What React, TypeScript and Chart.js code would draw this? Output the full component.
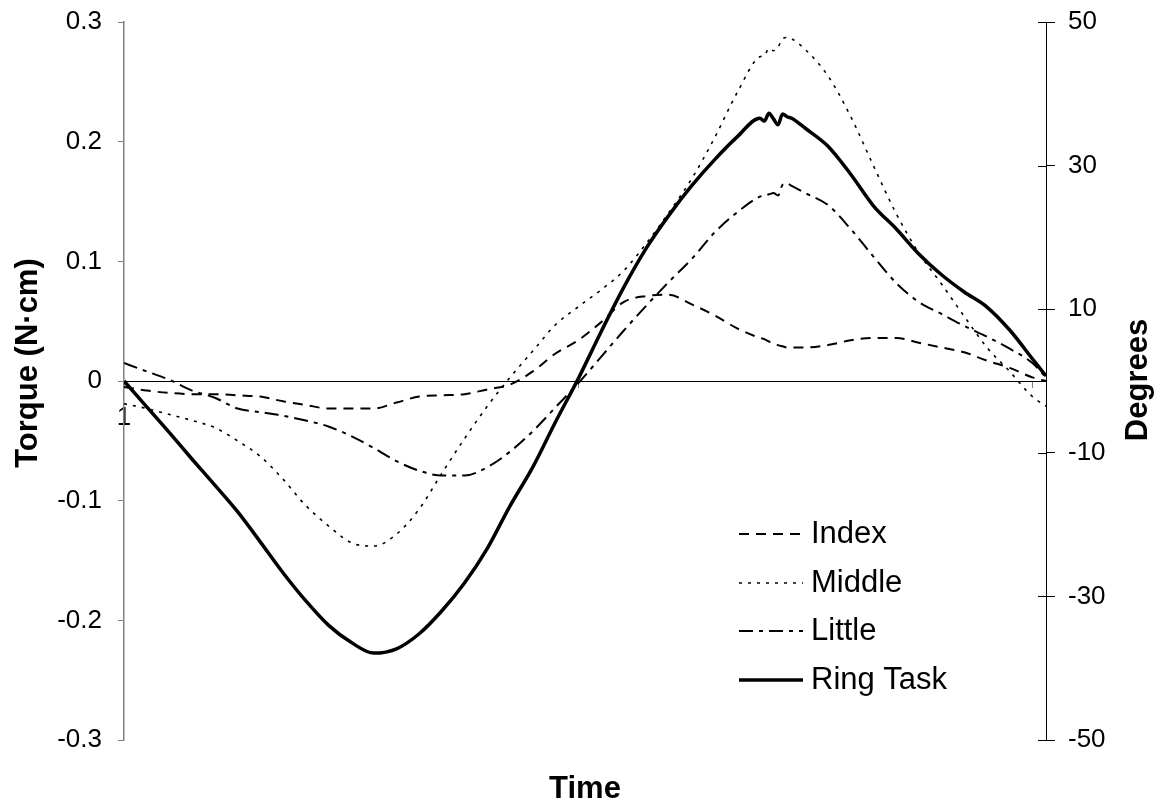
import React, { useEffect, useRef } from 'react';
import { Chart, registerables } from 'chart.js';

Chart.register(...registerables);

const FONT = "'Liberation Sans', Arial, Helvetica, sans-serif";

// Time axis: sample numbers (category ticks every 100 samples, only "1" labelled)
const samples = [
  1, 6, 11, 16, 21, 26, 31, 36, 41, 46, 51, 56, 61, 66, 71, 76, 81, 86, 91, 96,
  101, 106, 111, 116, 121, 126, 131, 136, 141, 142, 143, 144, 145, 146, 147, 148,
  151, 156, 161, 166, 171, 176, 181, 186, 191, 196, 201, 204,
];
const xTickSamples = [1, 101, 201];
const xTickLabels = ['1', '', ''];

// Torque (N·cm)
const indexTorque = [
  -0.005, -0.008, -0.010, -0.011, -0.011, -0.012, -0.013, -0.017, -0.020, -0.023,
  -0.023, -0.023, -0.018, -0.013, -0.012, -0.011, -0.007, -0.003, 0.008, 0.023,
  0.034, 0.049, 0.066, 0.071, 0.072, 0.064, 0.055, 0.044, 0.036, 0.035,
  0.033, 0.032, 0.030, 0.029, 0.028, 0.028,
  0.028, 0.030, 0.034, 0.036, 0.036, 0.032, 0.028, 0.024, 0.017, 0.011,
  0.003, 0.000,
];
const middleTorque = [
  -0.019, -0.023, -0.028, -0.033, -0.039, -0.050, -0.063, -0.082, -0.104, -0.121,
  -0.135, -0.138, -0.128, -0.107, -0.077, -0.048, -0.021, 0.003, 0.025, 0.047,
  0.062, 0.076, 0.092, 0.115, 0.141, 0.169, 0.203, 0.241, 0.271, 0.272,
  0.278, 0.276, 0.279, 0.286, 0.287, 0.286,
  0.277, 0.255, 0.221, 0.180, 0.140, 0.107, 0.081, 0.054, 0.028, 0.008,
  -0.013, -0.021,
];
const littleTorque = [
  0.015, 0.008, 0.001, -0.008, -0.014, -0.023, -0.026, -0.029, -0.033, -0.038,
  -0.046, -0.056, -0.067, -0.075, -0.079, -0.079, -0.072, -0.059, -0.042, -0.022,
  -0.002, 0.020, 0.042, 0.063, 0.083, 0.102, 0.124, 0.141, 0.154, 0.155,
  0.156, 0.157, 0.155, 0.164, 0.165, 0.163,
  0.157, 0.147, 0.127, 0.104, 0.082, 0.066, 0.056, 0.046, 0.037, 0.027,
  0.015, 0.003,
];
// Ring task angle (Degrees)
const ringDegrees = [
  0, -3.6, -7.2, -10.9, -14.5, -18.2, -22.4, -26.7, -30.6, -34.0,
  -36.4, -37.9, -37.3, -35.2, -32.0, -28.1, -23.3, -17.4, -12.0, -5.7,
  0.3, 6.8, 13.0, 18.5, 23.1, 27.2, 30.8, 34.0, 36.6, 36.2,
  37.3, 36.5, 35.7, 37.2, 36.8, 36.6,
  35.2, 32.7, 28.8, 24.4, 21.2, 17.7, 14.8, 12.4, 10.3, 7.1,
  3.1, 0.7,
];

const seriesLabels = ['Index', 'Middle', 'Little', 'Ring Task'];
const torqueMin = -0.3;
const torqueMax = 0.3;
const torqueStep = 0.1;
const degreeMin = -50;
const degreeMax = 50;
const degreeStep = 20;
const leftTitle = 'Torque (N·cm)';
const rightTitle = 'Degrees';
const bottomTitle = 'Time';

const crossTicks = {
  id: 'crossTicks',
  afterDraw(chart: any) {
    const s = chart.scales.y1;
    const ctx = chart.ctx;
    ctx.save();
    ctx.strokeStyle = '#000';
    ctx.lineWidth = 1;
    s.ticks.forEach((t: any) => {
      const py = Math.round(s.getPixelForValue(t.value)) + 0.5;
      ctx.beginPath();
      ctx.moveTo(s.left - 8, py);
      ctx.lineTo(s.left, py);
      ctx.stroke();
    });
    ctx.restore();
  },
};

const titlesPlugin = {
  id: 'titlesPlugin',
  afterDraw(chart: any) {
    const ctx = chart.ctx;
    ctx.save();
    ctx.fillStyle = '#000';
    ctx.font = `bold 31px ${FONT}`;
    ctx.textAlign = 'center';
    ctx.textBaseline = 'middle';
    ctx.fillText(bottomTitle, 585, 789);
    ctx.save();
    ctx.translate(28, 363);
    ctx.rotate(-Math.PI / 2);
    ctx.fillText(leftTitle, 0, 0);
    ctx.restore();
    ctx.save();
    ctx.translate(1138, 380);
    ctx.rotate(-Math.PI / 2);
    ctx.fillText(rightTitle, 0, 0);
    ctx.restore();
    ctx.restore();
  },
};

const legendPlugin = {
  id: 'customLegend',
  afterDraw(chart: any) {
    const ctx = chart.ctx;
    const rows = [534, 583, 631, 680];
    ctx.save();
    chart.data.datasets.forEach((ds: any, i: number) => {
      const y = rows[i];
      ctx.strokeStyle = ds.borderColor;
      ctx.lineWidth = ds.borderWidth;
      ctx.setLineDash(ds.borderDash || []);
      ctx.beginPath();
      ctx.moveTo(739, y);
      ctx.lineTo(803, y);
      ctx.stroke();
      ctx.setLineDash([]);
      ctx.fillStyle = '#000';
      ctx.font = `31px ${FONT}`;
      ctx.textAlign = 'left';
      ctx.textBaseline = 'middle';
      ctx.fillText(ds.label, 811, y);
    });
    ctx.restore();
  },
};

export default function App() {
  const ref = useRef<HTMLCanvasElement>(null);

  useEffect(() => {
    const canvas = ref.current;
    if (!canvas) return;
    const toPts = (arr: number[]) => samples.map((s, i) => ({ x: s, y: arr[i] }));
    const tickFont = { family: FONT, size: 26 };

    const chart = new Chart(canvas, {
      type: 'line',
      data: {
        datasets: [
          {
            label: seriesLabels[0],
            data: toPts(indexTorque),
            yAxisID: 'y',
            borderColor: '#000',
            borderWidth: 2,
            borderDash: [10, 7],
          },
          {
            label: seriesLabels[1],
            data: toPts(middleTorque),
            yAxisID: 'y',
            borderColor: '#000',
            borderWidth: 1.6,
            borderDash: [3, 6],
          },
          {
            label: seriesLabels[2],
            data: toPts(littleTorque),
            yAxisID: 'y',
            borderColor: '#000',
            borderWidth: 2,
            borderDash: [14, 6, 4, 6],
          },
          {
            label: seriesLabels[3],
            data: toPts(ringDegrees),
            yAxisID: 'y1',
            borderColor: '#000',
            borderWidth: 3.5,
          },
        ],
      } as any,
      options: {
        animation: false,
        responsive: false,
        devicePixelRatio: 1,
        elements: {
          point: { radius: 0, hoverRadius: 0 },
          line: { cubicInterpolationMode: 'monotone', borderJoinStyle: 'round', fill: false },
        },
        layout: { padding: { top: 22, bottom: 68, left: 0, right: 0 } },
        plugins: {
          legend: { display: false },
          tooltip: { enabled: false },
          title: { display: false },
        },
        scales: {
          x: {
            type: 'linear',
            position: { y: 0 } as any,
            min: samples[0],
            max: samples[samples.length - 1],
            afterBuildTicks: (s: any) => {
              s.ticks = xTickSamples.map((v) => ({ value: v }));
            },
            ticks: {
              callback: (v: any) => {
                const i = xTickSamples.indexOf(Number(v));
                return i >= 0 ? xTickLabels[i] : '';
              },
              font: tickFont,
              color: '#000',
              padding: 15,
              autoSkip: false,
              maxRotation: 0,
            },
            grid: { drawOnChartArea: false, drawTicks: true, tickLength: 6, color: '#808080' },
            border: { display: true, color: '#000', width: 1 },
          },
          y: {
            type: 'linear',
            position: 'left',
            min: torqueMin,
            max: torqueMax,
            afterFit: (s: any) => {
              s.width = 124;
              s.paddingTop = 0;
              s.paddingBottom = 0;
            },
            ticks: {
              stepSize: torqueStep,
              callback: (v: any) => String(Math.round(Number(v) * 10) / 10 || 0),
              font: tickFont,
              color: '#000',
              padding: 16,
            },
            grid: { drawOnChartArea: false, drawTicks: true, tickLength: 6, color: '#808080' },
            border: { display: true, color: '#808080', width: 1.5 },
          },
          y1: {
            type: 'linear',
            position: 'right',
            min: degreeMin,
            max: degreeMax,
            afterFit: (s: any) => {
              s.width = 123;
              s.paddingTop = 0;
              s.paddingBottom = 0;
            },
            ticks: {
              stepSize: degreeStep,
              font: tickFont,
              color: '#000',
              padding: 13,
            },
            grid: { drawOnChartArea: false, drawTicks: true, tickLength: 9, color: '#000' },
            border: { display: true, color: '#000', width: 1 },
          },
        },
      } as any,
      plugins: [crossTicks, titlesPlugin, legendPlugin],
    });

    return () => chart.destroy();
  }, []);

  return (
    <div style={{ position: 'absolute', left: 0, top: 0, width: 1169, height: 808, background: '#fff' }}>
      <canvas ref={ref} width={1169} height={808} style={{ display: 'block' }} />
    </div>
  );
}
